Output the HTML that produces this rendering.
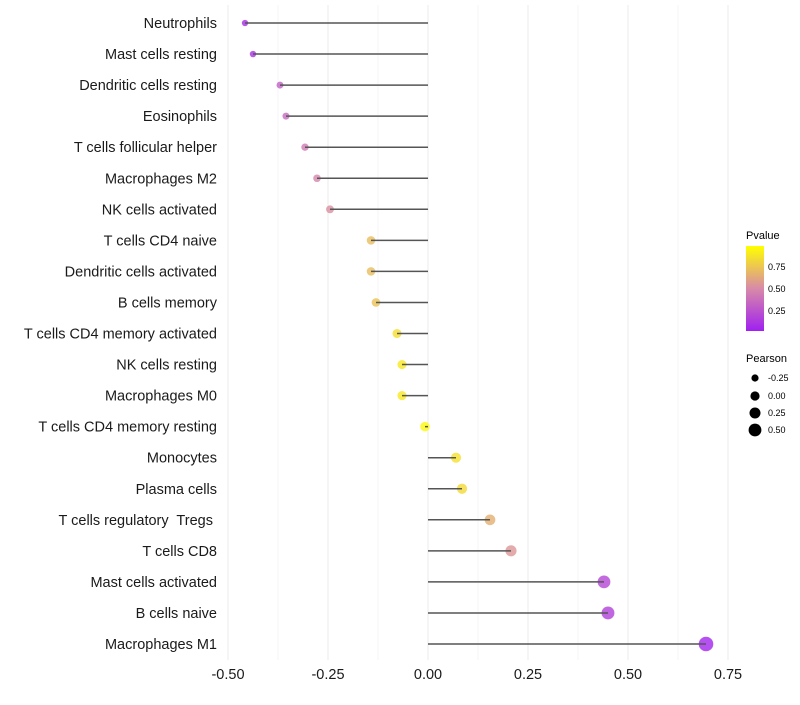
<!DOCTYPE html>
<html><head><meta charset="utf-8"><style>
body{margin:0;background:#fff;font-family:"Liberation Sans",sans-serif}
text{white-space:pre}
</style></head><body>
<svg id="c" width="800" height="700" xmlns="http://www.w3.org/2000/svg">
<defs><linearGradient id="pg" x1="0" y1="1" x2="0" y2="0">
<stop offset="0" stop-color="#a020f0"/><stop offset="0.5" stop-color="#d88aa8"/><stop offset="1" stop-color="#ffff00"/>
</linearGradient></defs>
<g id="grid"></g><g id="marks"></g><g id="axes"></g>
<g font-size="10">
<text x="746" y="239" font-size="11">Pvalue</text>
<rect x="746" y="246" width="18" height="85" fill="url(#pg)"/>
<text x="768" y="270" font-size="9">0.75</text><text x="768" y="292" font-size="9">0.50</text><text x="768" y="314" font-size="9">0.25</text>
</g>
<g>
<text x="746" y="362" font-size="11">Pearson</text>
<circle cx="755" cy="378" r="3.6"/><text x="768" y="381" font-size="9">-0.25</text>
<circle cx="755" cy="396" r="4.6"/><text x="768" y="399" font-size="9">0.00</text>
<circle cx="755" cy="413" r="5.5"/><text x="768" y="416" font-size="9">0.25</text>
<circle cx="755" cy="430" r="6.4"/><text x="768" y="433" font-size="9">0.50</text>
</g>
</svg>
<script>
const categories=["Neutrophils","Mast cells resting","Dendritic cells resting","Eosinophils","T cells follicular helper","Macrophages M2","NK cells activated","T cells CD4 naive","Dendritic cells activated","B cells memory","T cells CD4 memory activated","NK cells resting","Macrophages M0","T cells CD4 memory resting","Monocytes","Plasma cells","T cells regulatory  Tregs ","T cells CD8","Mast cells activated","B cells naive","Macrophages M1"];
const pearson=[-0.4575,-0.4375,-0.37,-0.355,-0.3075,-0.2775,-0.245,-0.1425,-0.1425,-0.13,-0.0775,-0.065,-0.065,-0.0075,0.07,0.085,0.155,0.2075,0.44,0.45,0.695];
const pvalue=[0.05,0.08,0.3,0.35,0.42,0.47,0.52,0.72,0.72,0.74,0.86,0.9,0.9,0.98,0.87,0.84,0.66,0.55,0.18,0.15,0.02];
const xTicks=[-0.5,-0.25,0,0.25,0.5,0.75];
const xTickLabels=["-0.50","-0.25","0.00","0.25","0.50","0.75"];
const NS="http://www.w3.org/2000/svg";
const x=v=>428+v*400;
const y=i=>23+i*31.05;
const rad=v=>Math.max(2,4.8+3.6*v);
function col(p){const a=[160,32,240],m=[216,138,168],b=[255,255,0];let c;if(p<0.5){const t=p/0.5;c=a.map((v,k)=>v+(m[k]-v)*t)}else{const t=(p-0.5)/0.5;c=m.map((v,k)=>v+(b[k]-v)*t)}return `rgb(${c.map(Math.round).join(',')})`}
function mk(t,a,p){const e=document.createElementNS(NS,t);for(const k in a)e.setAttribute(k,a[k]);p.appendChild(e);return e}
const grid=document.getElementById('grid'),marks=document.getElementById('marks'),axes=document.getElementById('axes');
for(let v=-0.5;v<=0.75001;v+=0.125){const major=Math.abs((v*4)-Math.round(v*4))<1e-6;const g=mk('line',{x1:x(v),x2:x(v),y1:5,y2:660,stroke:major?'#ebebeb':'#f3f3f3','stroke-width':major?1:0.7},grid);

}
categories.forEach((c,i)=>{
const cc=mk('circle',{cx:x(pearson[i]),cy:y(i),r:rad(pearson[i]),fill:col(pvalue[i]),'fill-opacity':0.8},marks);


const l=mk('line',{x1:x(0),x2:x(pearson[i]),y1:y(i),y2:y(i),stroke:'#555','stroke-width':1.5},marks);


const t=mk('text',{x:217,y:y(i)+5,'text-anchor':'end','font-size':14.5,fill:'#1a1a1a'},axes);t.textContent=c;


});
xTicks.forEach((v,i)=>{const t=mk('text',{x:x(v),y:679,'text-anchor':'middle','font-size':14.5,fill:'#1a1a1a'},axes);t.textContent=xTickLabels[i];

});
</script>
</body></html>
